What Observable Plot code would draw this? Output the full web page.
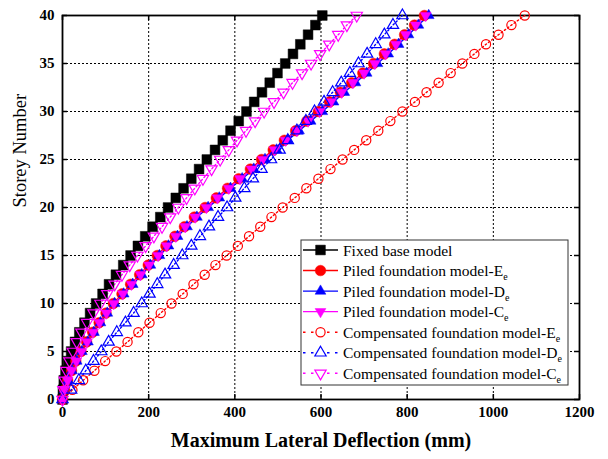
<!DOCTYPE html>
<html>
<head>
<meta charset="utf-8">
<script src="https://cdn.jsdelivr.net/npm/d3@7"></script>
<script src="https://cdn.jsdelivr.net/npm/@observablehq/plot@0.6"></script>
<style>
  html, body { margin: 0; padding: 0; background: white; }
  #chart svg { display: block; }
</style>
</head>
<body>
<div id="chart"></div>
<script>
// ---------- data ----------
const storeys = [0,1,2,3,4,5,6,7,8,9,10,11,12,13,14,15,16,17,18,19,20,21,22,23,24,25,26,27,28,29,30,31,32,33,34,35,36,37,38,39,40];

const fixedBase = [0,1,3,7,13,20,29,39,51,64,78,93,108,124,141,158,175,192,209,227,245,263,281,299,317,335,354,372,390,409,427,445,463,481,499,517,535,552,570,587,603];
const piledE = [0,5,12,21,31,43,56,70,85,101,118,138,158,179,199,220,240,261,283,306,331,357,383,409,436,462,489,515,541,567,594,620,645,671,697,722,747,771,794,817,840];
const piledD = [0,5,13,22,33,45,59,73,88,104,121,142,163,184,204,225,246,267,289,312,338,364,390,417,444,470,497,523,549,576,603,629,654,680,706,731,756,780,803,826,850];
const piledC = [0,5,12,21,32,44,57,71,86,102,119,140,160,181,201,222,242,263,285,308,334,360,386,412,439,465,492,518,544,570,597,623,648,674,700,725,750,774,797,820,843];
const compE = [0,23,48,74,99,125,151,176,202,228,253,279,304,330,355,381,407,433,459,485,511,539,566,594,622,650,677,705,733,761,789,818,845,873,901,928,956,983,1012,1042,1073];
const compD = [0,20,38,54,72,90,107,126,146,165,184,202,220,238,258,278,299,319,340,361,382,401,422,442,462,484,504,523,544,565,585,607,627,647,667,687,707,727,747,767,789];
const compC = [0,2,5,9,16,24,33,44,57,72,88,104,121,138,156,174,193,212,231,250,269,288,307,326,346,366,386,405,426,447,468,491,513,534,556,577,598,619,640,660,683];

const xTicks = [0,200,400,600,800,1000,1200];
const yTicks = [0,5,10,15,20,25,30,35,40];
const xGrid = [200,400,600,800,1000];
const yGrid = [5,10,15,20,25,30,35];

const legendMain = ["Fixed base model","Piled foundation model-E","Piled foundation model-D","Piled foundation model-C","Compensated foundation model-E","Compensated foundation model-D","Compensated foundation model-C"];
const legendSub = ["","e","e","e","e","e","e"];

// ---------- symbols ----------
const sqrt3 = Math.sqrt(3);
const downTriangle = {
  draw(ctx, size) {
    const y = -Math.sqrt(size / (sqrt3 * 3));
    ctx.moveTo(0, -y * 2);
    ctx.lineTo(-sqrt3 * y, y);
    ctx.lineTo(sqrt3 * y, y);
    ctx.closePath();
  }
};

const seriesDefs = [
  {values: fixedBase, color: "#000000", symbol: d3.symbolSquare, r: 5.5, filled: true, dash: null},
  {values: piledE, color: "#ff0000", symbol: d3.symbolCircle, r: 5.3, filled: true, dash: null},
  {values: piledD, color: "#0000ff", symbol: d3.symbolTriangle, r: 4, filled: true, dash: null},
  {values: piledC, color: "#ff00ff", symbol: downTriangle, r: 4, filled: true, dash: null},
  {values: compE, color: "#ff0000", symbol: d3.symbolCircle, r: 4.6, filled: false, dash: "1.5,2.5"},
  {values: compD, color: "#0000ff", symbol: d3.symbolTriangle, r: 4.2, filled: false, dash: "1.5,2.5"},
  {values: compC, color: "#ff00ff", symbol: downTriangle, r: 4.2, filled: false, dash: "1.5,2.5"}
];

// ---------- layout ----------
const W = 608, H = 459;
const mL = 62, mR = 29, mT = 15, mB = 60;
const plotW = W - mL - mR, plotH = H - mT - mB;
const tickLen = 5;
const serif = "'Liberation Serif', 'Times New Roman', serif";

const seriesMarks = [];
for (const s of seriesDefs) {
  seriesMarks.push(Plot.line(s.values, {
    x: d => d, y: (d, i) => storeys[i],
    stroke: s.color, strokeWidth: 1.4,
    strokeDasharray: s.dash || undefined
  }));
}
for (const s of seriesDefs) {
  seriesMarks.push(Plot.dot(s.values, {
    x: d => d, y: (d, i) => storeys[i],
    symbol: s.symbol, r: s.r,
    fill: s.filled ? s.color : "none",
    stroke: s.color, strokeWidth: s.filled ? 0.5 : 1.2
  }));
}

const svg = Plot.plot({
  width: W, height: H,
  marginLeft: mL, marginRight: mR, marginTop: mT, marginBottom: mB,
  x: {domain: [0, 1200]},
  y: {domain: [0, 40]},
  style: {fontFamily: serif, fontSize: "15px", background: "white", color: "black"},
  marks: [
    Plot.gridX(xGrid, {stroke: "black", strokeOpacity: 1, strokeWidth: 1, strokeDasharray: "2,2"}),
    Plot.gridY(yGrid, {stroke: "black", strokeOpacity: 1, strokeWidth: 1, strokeDasharray: "2,2"}),
    Plot.tickX(xTicks, {x: d => d, insetTop: plotH - tickLen, stroke: "black", strokeWidth: 1.5}),
    Plot.tickX(xTicks, {x: d => d, insetBottom: plotH - tickLen, stroke: "black", strokeWidth: 1.5}),
    Plot.tickY(yTicks, {y: d => d, insetRight: plotW - tickLen, stroke: "black", strokeWidth: 1.5}),
    Plot.tickY(yTicks, {y: d => d, insetLeft: plotW - tickLen, stroke: "black", strokeWidth: 1.5}),
    Plot.frame({stroke: "black", strokeWidth: 1.8}),
    ...seriesMarks,
    Plot.axisX(xTicks, {tickSize: 0, tickPadding: 7, fontWeight: "bold", fontSize: 15, label: null, tickFormat: d => String(d)}),
    Plot.axisY(yTicks, {tickSize: 0, tickPadding: 8, fontWeight: "bold", fontSize: 15, label: null, tickFormat: d => String(d)}),
    Plot.text(["Maximum Lateral Deflection (mm)"], {frameAnchor: "bottom", dy: 41, fontWeight: "bold", fontSize: 20, lineAnchor: "middle"}),
    Plot.text(["Storey Number"], {frameAnchor: "left", dx: -42, rotate: -90, fontSize: 18.5, lineAnchor: "middle"})
  ]
});

// make axis tick labels bold
d3.select(svg).selectAll('[aria-label="x-axis tick label"], [aria-label="y-axis tick label"]')
  .attr("font-weight", "bold").style("font-weight", "bold");
d3.select(svg).selectAll('[aria-label="x-axis tick label"] text, [aria-label="y-axis tick label"] text')
  .style("font-weight", "bold");

// ---------- legend ----------
const lg = d3.select(svg).append("g")
  .attr("font-family", serif)
  .attr("font-size", 15.5)
  .attr("font-weight", "normal")
  .attr("text-anchor", "start");
const boxX = 301, boxY = 240, boxW = 267, boxH = 145;
lg.append("rect").attr("x", boxX).attr("y", boxY).attr("width", boxW).attr("height", boxH)
  .attr("fill", "white").attr("stroke", "#333").attr("stroke-width", 1);
const rowY0 = 250, rowStep = 20.55;
seriesDefs.forEach((s, i) => {
  const cy = rowY0 + i * rowStep;
  lg.append("line").attr("x1", 303).attr("x2", 338).attr("y1", cy).attr("y2", cy)
    .attr("stroke", s.color).attr("stroke-width", 1.4)
    .attr("stroke-dasharray", s.dash ? "2.5,5.5" : null);
  lg.append("path")
    .attr("transform", `translate(320.5,${cy})`)
    .attr("d", d3.symbol().type(s.symbol).size(Math.PI * s.r * s.r)())
    .attr("fill", s.filled ? s.color : "white")
    .attr("stroke", s.color).attr("stroke-width", s.filled ? 0.5 : 1.2);
  const t = lg.append("text").attr("x", 343).attr("y", cy + 5.5)
    .attr("fill", "black").attr("text-anchor", "start").text(legendMain[i]);
  if (legendSub[i]) t.append("tspan").attr("dy", 4).attr("font-size", 10).text(legendSub[i]);
});

document.getElementById("chart").appendChild(svg);
</script>
</body>
</html>
